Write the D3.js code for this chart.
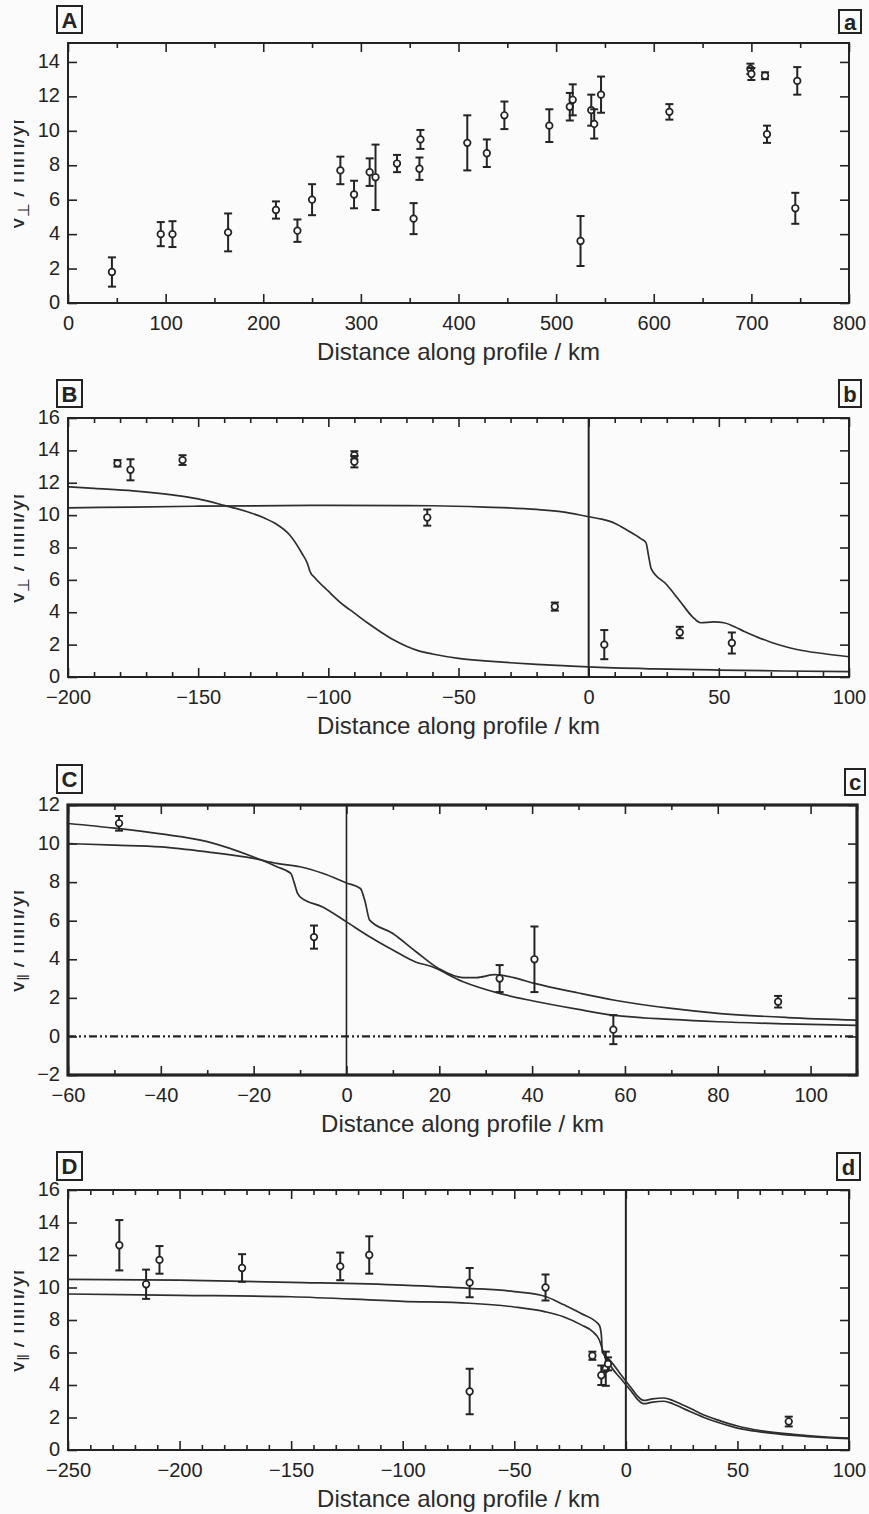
<!DOCTYPE html>
<html>
<head>
<meta charset="utf-8">
<script src="https://cdn.jsdelivr.net/npm/d3@7"></script>
<style>
  body { margin: 0; background: #fbfbfb; }
  svg { display: block; font-family: "Liberation Sans", Arial, sans-serif; }
</style>
</head>
<body>
<svg id="fig" width="869" height="1514"></svg>
<script>
// ---- panel A: v_perp along the whole profile
const aDist = [45, 95, 107, 164, 213, 235, 250, 279, 293, 309, 315, 337, 354, 360, 361, 409, 429, 447, 493, 514, 517, 525, 536, 539, 546, 616, 699, 700, 714, 716, 745, 747];
const aVel  = [1.8, 4.0, 4.0, 4.1, 5.4, 4.2, 6.0, 7.7, 6.3, 7.6, 7.3, 8.1, 4.9, 7.8, 9.5, 9.3, 8.7, 10.9, 10.3, 11.4, 11.8, 3.6, 11.2, 10.4, 12.1, 11.1, 13.6, 13.3, 13.2, 9.8, 5.5, 12.9];
const aErr  = [0.85, 0.7, 0.75, 1.1, 0.5, 0.65, 0.9, 0.8, 0.8, 0.8, 1.9, 0.5, 0.9, 0.65, 0.55, 1.6, 0.8, 0.8, 0.95, 0.8, 0.9, 1.45, 0.9, 0.85, 1.05, 0.45, 0.3, 0.35, 0.2, 0.5, 0.9, 0.8];
const aXTicks = [0, 100, 200, 300, 400, 500, 600, 700, 800];
const aYTicks = [0, 2, 4, 6, 8, 10, 12, 14];

// ---- panel B: v_perp near the fault
const bDist = [-181, -176, -156, -90, -90, -62, -13, 6, 35, 55];
const bVel  = [13.2, 12.8, 13.4, 13.7, 13.3, 9.85, 4.35, 2.0, 2.75, 2.1];
const bErr  = [0.2, 0.65, 0.3, 0.25, 0.35, 0.5, 0.25, 0.9, 0.35, 0.65];
const bModel1Dist = [-200, -175, -150, -100, -60, -40, -20, -10, 0, 5, 10, 15, 20, 22, 23, 24, 30, 35, 40, 43, 48, 52, 56, 60, 65, 70, 75, 80, 90, 100];
const bModel1Vel  = [10.45, 10.5, 10.55, 10.6, 10.58, 10.5, 10.35, 10.2, 9.9, 9.75, 9.5, 9.05, 8.55, 8.3, 7.5, 6.7, 5.7, 4.7, 3.7, 3.35, 3.4, 3.35, 3.1, 2.8, 2.45, 2.15, 1.9, 1.7, 1.45, 1.25];
const bModel2Dist = [-200, -190, -175, -160, -150, -140, -130, -125, -120, -115, -110, -108, -107, -105, -100, -95, -90, -85, -80, -75, -70, -65, -60, -50, -40, -30, -20, -10, 0, 25, 50, 75, 100];
const bModel2Vel  = [11.75, 11.65, 11.5, 11.25, 11.0, 10.6, 10.15, 9.85, 9.45, 8.8, 7.6, 7.0, 6.5, 6.1, 5.3, 4.55, 3.95, 3.35, 2.8, 2.3, 1.9, 1.6, 1.42, 1.15, 1.0, 0.88, 0.78, 0.7, 0.62, 0.5, 0.43, 0.37, 0.33];
const bXTicks = [-200, -150, -100, -50, 0, 50, 100];
const bYTicks = [0, 2, 4, 6, 8, 10, 12, 14, 16];

// ---- panel C: v_parallel, short profile
const cDist = [-49, -7, 33, 40.5, 57.5, 93];
const cVel  = [11.05, 5.15, 3.0, 4.0, 0.35, 1.8];
const cErr  = [0.38, 0.6, 0.7, 1.7, 0.75, 0.3];
const cModel1Dist = [-60, -50, -40, -30, -20, -15, -12, -11.3, -10.5, -10, -5, 0, 5, 10, 15, 18, 25, 33, 40, 50, 57.5, 70, 80, 95, 110];
const cModel1Vel  = [11.04, 10.8, 10.5, 10.1, 9.3, 8.8, 8.45, 8.0, 7.4, 7.24, 6.7, 5.94, 5.17, 4.48, 3.85, 3.65, 2.85, 2.23, 1.85, 1.4, 1.1, 0.88, 0.76, 0.65, 0.57];
const cModel2Dist = [-60, -50, -40, -30, -20, -15, -10, -5, 0, 3, 4, 5, 10, 15, 20, 25, 28, 32, 36, 40.5, 50, 57.5, 70, 80, 95, 110];
const cModel2Vel  = [10.0, 9.92, 9.83, 9.57, 9.23, 8.97, 8.8, 8.45, 7.96, 7.67, 7.0, 6.03, 5.34, 4.39, 3.5, 3.05, 3.05, 3.2, 3.05, 2.75, 2.25, 1.89, 1.45, 1.2, 0.98, 0.85];
const cXTicks = [-60, -40, -20, 0, 20, 40, 60, 80, 100];
const cYTicks = [-2, 0, 2, 4, 6, 8, 10, 12];

// ---- panel D: v_parallel, long profile
const dDist = [-227, -215, -209, -172, -128, -115, -70, -70, -36, -15, -11, -9, -8, 73];
const dVel  = [12.6, 10.2, 11.7, 11.2, 11.3, 12.0, 10.3, 3.6, 10.0, 5.8, 4.6, 5.0, 5.3, 1.75];
const dErr  = [1.55, 0.9, 0.85, 0.85, 0.85, 1.15, 0.9, 1.4, 0.8, 0.25, 0.6, 1.05, 0.4, 0.3];
const dModel1Dist = [-250, -200, -150, -100, -70, -50, -36, -28, -20, -12, -11, -10.5, -7, -2, 2.5, 5, 8, 12, 17, 21, 25, 29, 35, 40, 50, 60, 75, 90, 100];
const dModel1Vel  = [10.5, 10.45, 10.32, 10.15, 9.95, 9.75, 9.45, 8.95, 8.4, 7.7, 7.1, 6.0, 5.5, 4.6, 3.8, 3.35, 3.05, 3.15, 3.2, 3.05, 2.8, 2.55, 2.15, 1.9, 1.48, 1.2, 0.96, 0.8, 0.74];
const dModel2Dist = [-250, -200, -150, -100, -70, -50, -36, -28, -20, -15, -12, -10, -7, -2, 2.5, 5, 8, 12, 17, 21, 25, 29, 35, 40, 50, 60, 75, 90, 100];
const dModel2Vel  = [9.6, 9.52, 9.43, 9.15, 9.03, 8.8, 8.5, 8.2, 7.7, 7.3, 6.8, 6.0, 5.2, 4.35, 3.6, 3.15, 2.85, 2.95, 3.0, 2.85, 2.6, 2.35, 2.0, 1.75, 1.35, 1.12, 0.9, 0.76, 0.7];
const dXTicks = [-250, -200, -150, -100, -50, 0, 50, 100];
const dYTicks = [0, 2, 4, 6, 8, 10, 12, 14, 16];

const ink = "#232323";
const svg = d3.select("#fig");

// the scanned figure is trimmed on the left, cutting the y titles
svg.append("defs").append("clipPath").attr("id", "leftcut")
  .append("rect").attr("x", 14).attr("y", 0).attr("width", 855).attr("height", 1514);

function drawPanel(p) {
  const x = d3.scaleLinear().domain(p.xDomain).range([p.l, p.r]);
  const y = d3.scaleLinear().domain(p.yDomain).range([p.b, p.t]);
  const g = svg.append("g");

  const clean = sel => {
    sel.select(".domain").remove();
    sel.selectAll("line").attr("stroke", ink).attr("stroke-width", 1.6);
    sel.selectAll("text").attr("fill", ink).attr("font-size", 20)
      .attr("font-family", "Liberation Sans, Arial, sans-serif");
  };

  // major + minor ticks on all sides, pointing in
  g.append("g").attr("transform", `translate(0,${p.b})`)
    .call(d3.axisBottom(x).tickValues(p.xTicks).tickSize(-9).tickPadding(13).tickSizeOuter(0))
    .call(clean);
  g.append("g").attr("transform", `translate(0,${p.t})`)
    .call(d3.axisTop(x).tickValues(p.xTicks).tickSize(-9).tickFormat("").tickSizeOuter(0))
    .call(clean);
  const minor = d3.range(p.xDomain[0], p.xDomain[1] + 0.1, p.xMinor).filter(v => !p.xTicks.includes(v));
  g.append("g").attr("transform", `translate(0,${p.b})`)
    .call(d3.axisBottom(x).tickValues(minor).tickSize(-5).tickFormat("").tickSizeOuter(0))
    .call(clean);
  g.append("g").attr("transform", `translate(0,${p.t})`)
    .call(d3.axisTop(x).tickValues(minor).tickSize(-5).tickFormat("").tickSizeOuter(0))
    .call(clean);
  g.append("g").attr("transform", `translate(${p.l},0)`)
    .call(d3.axisLeft(y).tickValues(p.yTicks).tickSize(-9).tickPadding(8).tickSizeOuter(0))
    .call(clean)
    .call(s => s.selectAll("text").attr("dy", "0.28em"));
  g.append("g").attr("transform", `translate(${p.r},0)`)
    .call(d3.axisRight(y).tickValues(p.yTicks).tickSize(-9).tickFormat("").tickSizeOuter(0))
    .call(clean);

  if (p.dashZero) {
    g.append("line")
      .attr("x1", p.l).attr("x2", p.r).attr("y1", y(0)).attr("y2", y(0))
      .attr("stroke", ink).attr("stroke-width", 2.2)
      .attr("stroke-dasharray", "8,3,2,3,2,3");
  }

  if (p.vLine) {
    g.append("line")
      .attr("x1", x(0)).attr("x2", x(0)).attr("y1", p.t).attr("y2", p.b)
      .attr("stroke", ink).attr("stroke-width", p.vLineWidth || 2);
  }

  const line = d3.line().x(d => x(d[0])).y(d => y(d[1])).curve(d3.curveMonotoneX);
  (p.curves || []).forEach(c => {
    g.append("path")
      .datum(c[0].map((d, i) => [d, c[1][i]]))
      .attr("d", line)
      .attr("fill", "none").attr("stroke", "#2e2e2e").attr("stroke-width", 1.7);
  });

  const pts = p.dist.map((d, i) => ({ d, v: p.vel[i], e: p.err[i] }));
  const eb = g.append("g").selectAll("g").data(pts).enter().append("g");
  eb.append("line")
    .attr("x1", d => x(d.d)).attr("x2", d => x(d.d))
    .attr("y1", d => y(d.v - d.e)).attr("y2", d => y(d.v + d.e))
    .attr("stroke", ink).attr("stroke-width", 2);
  [-1, 1].forEach(s => {
    eb.append("line")
      .attr("x1", d => x(d.d) - 4).attr("x2", d => x(d.d) + 4)
      .attr("y1", d => y(d.v + s * d.e)).attr("y2", d => y(d.v + s * d.e))
      .attr("stroke", ink).attr("stroke-width", 2);
  });
  eb.append("circle")
    .attr("cx", d => x(d.d)).attr("cy", d => y(d.v)).attr("r", 3.3)
    .attr("fill", "#fbfbfb").attr("stroke", ink).attr("stroke-width", 1.7);

  // frame
  g.append("rect")
    .attr("x", p.l).attr("y", p.t).attr("width", p.r - p.l).attr("height", p.b - p.t)
    .attr("fill", "none").attr("stroke", ink).attr("stroke-width", p.frameWidth || 2);

  // axis titles
  g.append("text")
    .attr("x", (p.l + p.r) / 2).attr("y", p.b + 57)
    .attr("text-anchor", "middle").attr("font-size", 24).attr("fill", "#2a2a2a")
    .text("Distance along profile / km");

  const yt = g.append("g").attr("clip-path", "url(#leftcut)")
    .append("text")
    .attr("transform", `translate(24,${(p.t + p.b) / 2}) rotate(-90)`)
    .attr("text-anchor", "middle").attr("font-size", 24).attr("fill", "#2a2a2a");
  yt.append("tspan").text("v");
  yt.append("tspan").attr("font-size", 16).attr("dy", 5).text(p.sub);
  yt.append("tspan").attr("dy", -5).text(" / mm/yr");

  // panel tags
  [[p.tag, p.tagBox], [p.tagLow, p.tagLowBox]].forEach(([txt, bx]) => {
    g.append("rect")
      .attr("x", bx[0]).attr("y", bx[1]).attr("width", bx[2]).attr("height", bx[3])
      .attr("fill", "#fbfbfb").attr("stroke", ink).attr("stroke-width", 2);
    g.append("text")
      .attr("x", bx[0] + bx[2] / 2).attr("y", bx[1] + bx[3] / 2 + 8)
      .attr("text-anchor", "middle").attr("font-size", 22).attr("font-weight", "bold")
      .attr("fill", ink).text(txt);
  });
}

drawPanel({
  l: 68, r: 849, t: 43, b: 303, xDomain: [0, 800], yDomain: [0, 15.1],
  xTicks: aXTicks, xMinor: 50, yTicks: aYTicks,
  dist: aDist, vel: aVel, err: aErr, sub: "\u22A5",
  tag: "A", tagBox: [57, 6, 25, 27], tagLow: "a", tagLowBox: [839, 10, 22, 23]
});

drawPanel({
  l: 68, r: 849, t: 418, b: 677, xDomain: [-200, 100], yDomain: [0, 16],
  xTicks: bXTicks, xMinor: 10, yTicks: bYTicks,
  dist: bDist, vel: bVel, err: bErr, sub: "\u22A5", vLine: true,
  curves: [[bModel1Dist, bModel1Vel], [bModel2Dist, bModel2Vel]],
  tag: "B", tagBox: [57, 380, 25, 27], tagLow: "b", tagLowBox: [839, 380, 22, 27]
});

drawPanel({
  l: 68, r: 857, t: 805, b: 1075, xDomain: [-60, 110], yDomain: [-2, 12],
  xTicks: cXTicks, xMinor: 10, yTicks: cYTicks, frameWidth: 3.2,
  dist: cDist, vel: cVel, err: cErr, sub: "\u2016", vLine: true, vLineWidth: 1.6, dashZero: true,
  curves: [[cModel1Dist, cModel1Vel], [cModel2Dist, cModel2Vel]],
  tag: "C", tagBox: [57, 765, 25, 28], tagLow: "c", tagLowBox: [845, 769, 20, 26]
});

drawPanel({
  l: 68, r: 849, t: 1190, b: 1450, xDomain: [-250, 100], yDomain: [0, 16],
  xTicks: dXTicks, xMinor: 10, yTicks: dYTicks,
  dist: dDist, vel: dVel, err: dErr, sub: "\u2016", vLine: true,
  curves: [[dModel1Dist, dModel1Vel], [dModel2Dist, dModel2Vel]],
  tag: "D", tagBox: [57, 1152, 25, 28], tagLow: "d", tagLowBox: [837, 1153, 23, 27]
});
</script>
</body>
</html>
